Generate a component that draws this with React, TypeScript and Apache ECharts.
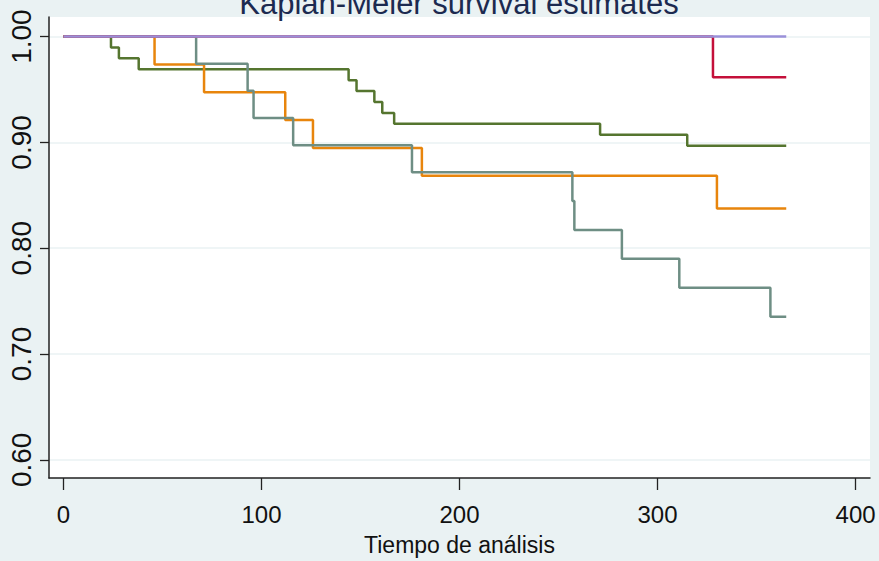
import React, { useEffect, useRef } from "react";
import * as echarts from "echarts";

const xTicks = [0, 100, 200, 300, 400];
const yTicks = [0.6, 0.7, 0.8, 0.9, 1.0];

const greenTimes = [0, 24, 28, 38, 144, 148, 157, 161, 167, 271, 315, 365];
const greenSurv = [1, 0.9897, 0.9794, 0.9691, 0.9588, 0.9485, 0.9381, 0.9278, 0.9175, 0.9072, 0.8969, 0.8969];

const orangeTimes = [0, 46, 71, 112, 126, 181, 330, 365];
const orangeSurv = [1, 0.9737, 0.9474, 0.9211, 0.8947, 0.8684, 0.8375, 0.8375];

const tealTimes = [0, 67, 93, 96, 116, 176, 257, 258, 282, 311, 357, 365];
const tealSurv = [1, 0.9744, 0.9487, 0.9231, 0.8974, 0.8718, 0.8445, 0.8172, 0.7899, 0.7626, 0.7353, 0.7353];

const redTimes = [0, 328, 365];
const redSurv = [1, 0.9615, 0.9615];

const purpleTimes = [0, 365];
const purpleSurv = [1, 1];

const titleText = "Kaplan-Meier survival estimates";
const xName = "Tiempo de análisis";

const sans = "'Liberation Sans', Arial, sans-serif";

export default function App() {
  const ref = useRef<HTMLDivElement>(null);
  useEffect(() => {
    const chart = echarts.init(ref.current!, undefined, { renderer: "svg" });
    const pair = (t: number[], s: number[]) => t.map((v, i) => [v, s[i]]);
    const mk = (name: string, t: number[], s: number[], color: string) => ({
      name,
      type: "line",
      step: "end",
      symbol: "none",
      silent: true,
      data: pair(t, s),
      lineStyle: { color, width: 2.5 },
      itemStyle: { color },
    });
    chart.setOption({
      animation: false,
      backgroundColor: "#EAF2F3",
      graphic: [
        {
          type: "text",
          style: {
            text: titleText,
            x: 459,
            y: 19,
            textAlign: "center",
            textVerticalAlign: "bottom",
            fontSize: 31,
            fontFamily: sans,
            fill: "#1C2A50",
          },
        },
      ],
      grid: {
        left: 49,
        right: 9,
        top: 17,
        bottom: 81,
        show: true,
        backgroundColor: "#ffffff",
        borderWidth: 0,
      },
      xAxis: {
        type: "value",
        min: -7.3,
        max: 407.3,
        axisLine: { show: true, onZero: false, lineStyle: { color: "#222", width: 1.5 } },
        axisTick: { show: true, length: 12, customValues: xTicks, lineStyle: { color: "#222", width: 1.3 } },
        axisLabel: { customValues: xTicks, fontSize: 24, color: "#111", margin: 24, fontFamily: sans },
        splitLine: { show: false },
        name: xName,
        nameLocation: "middle",
        nameGap: 55,
        nameTextStyle: { fontSize: 23, color: "#111", fontFamily: sans },
      },
      yAxis: {
        type: "value",
        min: 0.5828,
        max: 1.0185,
        axisLine: { show: true, onZero: false, lineStyle: { color: "#222", width: 1.5 } },
        axisTick: { show: true, length: 9, customValues: yTicks, lineStyle: { color: "#222", width: 1.3 } },
        axisLabel: {
          customValues: yTicks,
          rotate: 90,
          fontSize: 28,
          color: "#111",
          margin: 14,
          fontFamily: sans,
          formatter: (v: number) => v.toFixed(2),
        },
        splitLine: { show: true, lineStyle: { color: "#EAF2F3", width: 1.6 } },
      },
      series: [
        mk("g1", greenTimes, greenSurv, "#55752F"),
        mk("g2", orangeTimes, orangeSurv, "#E8850C"),
        mk("g3", tealTimes, tealSurv, "#6E8E84"),
        mk("g4", redTimes, redSurv, "#C4103A"),
        mk("g5", purpleTimes, purpleSurv, "#9A90D9"),
      ],
    });
    return () => chart.dispose();
  }, []);
  return <div ref={ref} style={{ position: "fixed", left: 0, top: 0, width: 879, height: 561 }} />;
}
